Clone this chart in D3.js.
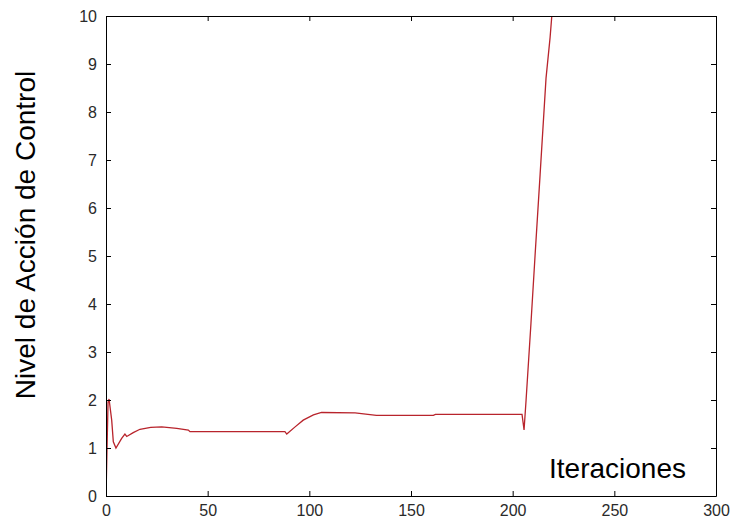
<!DOCTYPE html>
<html>
<head>
<meta charset="utf-8">
<script src="https://cdn.jsdelivr.net/npm/d3@7"></script>
<style>
body { margin: 0; background: #fff; }
.axis text { font-family: "Liberation Sans", Arial, sans-serif; font-size: 16px; fill: #2a2a2a; }
.axis path, .axis line { stroke: #000; }
</style>
</head>
<body>
<div id="chart"></div>
<script>
// iteration number and control action level
var iters = [0, 1, 1.5, 2.8, 3.6, 4.9, 7.7, 9.3, 10.2, 13.4, 16.7, 22, 27.4, 34.8, 40.5, 41.3,
  60, 88, 88.9, 93, 97, 102, 106, 122.5, 133, 161, 162, 204.6, 205.6, 206.6,
  209, 211, 213.5, 216.4, 218.4, 220];
var level = [0, 1.95, 2.02, 1.58, 1.13, 1.0, 1.2, 1.29, 1.24, 1.32, 1.39, 1.43, 1.44, 1.41, 1.375, 1.34,
  1.34, 1.34, 1.29, 1.44, 1.58, 1.69, 1.74, 1.73, 1.68, 1.68, 1.70, 1.70, 1.375, 2.0,
  3.6, 5.0, 6.7, 8.7, 9.55, 10.4];
var xTicks = [0, 50, 100, 150, 200, 250, 300];
var yTicks = [0, 1, 2, 3, 4, 5, 6, 7, 8, 9, 10];

var data = iters.map(function(d, i) { return {x: d, y: level[i]}; });

var width = 733, height = 522;
var margin = {top: 16, right: 17, bottom: 26, left: 106};
var w = width - margin.left - margin.right,
  h = height - margin.top - margin.bottom;

var svg = d3.select("#chart").append("svg")
  .attr("width", width)
  .attr("height", height);

var g = svg.append("g")
  .attr("transform", "translate(" + margin.left + "," + margin.top + ")");

var x = d3.scaleLinear().domain([0, 300]).range([0, w]);
var y = d3.scaleLinear().domain([0, 10]).range([h, 0]);

g.append("defs").append("clipPath").attr("id", "clip")
  .append("rect").attr("width", w).attr("height", h);

// line first, box drawn on top
var line = d3.line()
  .x(function(d) { return x(d.x); })
  .y(function(d) { return y(d.y); });

g.append("path")
  .datum(data)
  .attr("clip-path", "url(#clip)")
  .attr("fill", "none")
  .attr("stroke", "#b8242c")
  .attr("stroke-width", 1.3)
  .attr("d", line);

// matlab style: ticks pointing inwards on every side
g.append("g")
  .attr("class", "axis")
  .attr("transform", "translate(0," + h + ")")
  .call(d3.axisBottom(x).tickValues(xTicks).tickSizeInner(-5).tickSizeOuter(0).tickPadding(9));

g.append("g")
  .attr("class", "axis")
  .call(d3.axisTop(x).tickValues(xTicks).tickSizeInner(-5).tickSizeOuter(0).tickFormat(""));

g.append("g")
  .attr("class", "axis")
  .call(d3.axisLeft(y).tickValues(yTicks).tickSizeInner(-5).tickSizeOuter(0).tickPadding(9));

g.append("g")
  .attr("class", "axis")
  .attr("transform", "translate(" + w + ",0)")
  .call(d3.axisRight(y).tickValues(yTicks).tickSizeInner(-5).tickSizeOuter(0).tickFormat(""));

g.append("text")
  .attr("transform", "rotate(-90)")
  .attr("x", -(235 - margin.top))
  .attr("y", 35 - margin.left)
  .style("text-anchor", "middle")
  .style("font-family", "Liberation Sans, Arial, sans-serif")
  .style("font-size", "28px")
  .text("Nivel de Acción de Control");

g.append("text")
  .attr("x", 549 - margin.left)
  .attr("y", 478 - margin.top)
  .style("font-family", "Liberation Sans, Arial, sans-serif")
  .style("font-size", "28px")
  .text("Iteraciones");
</script>
</body>
</html>
